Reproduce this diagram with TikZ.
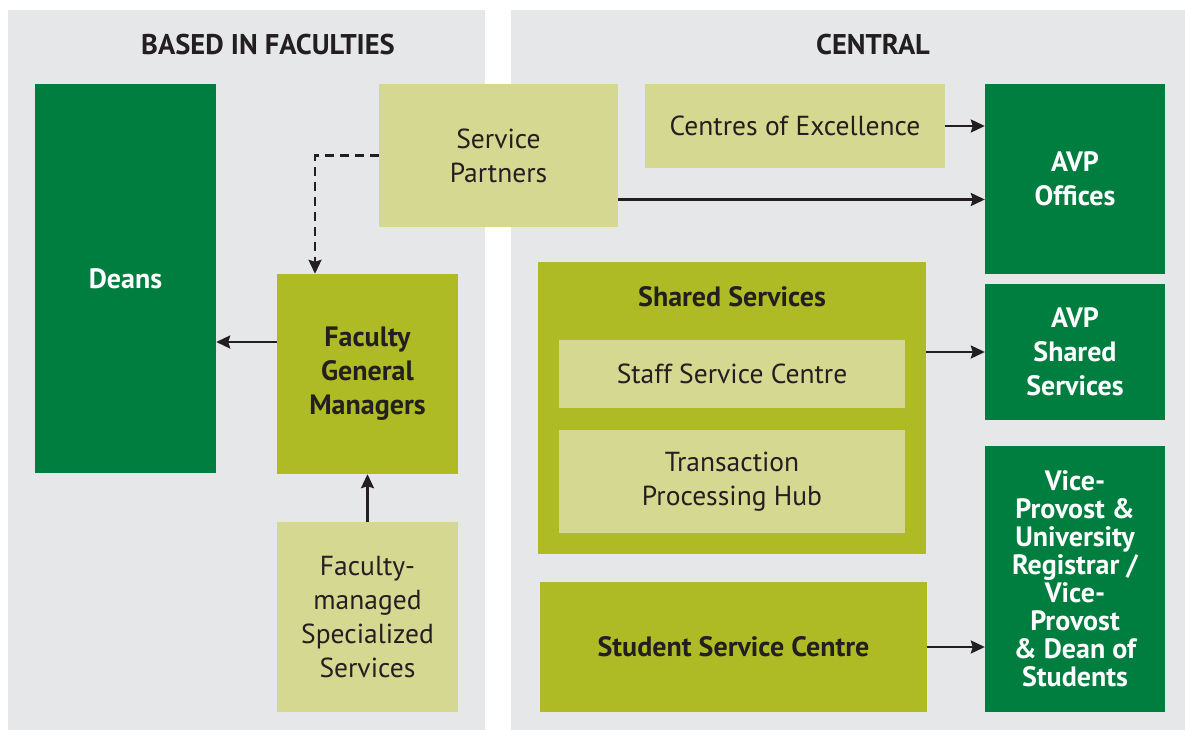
\documentclass[tikz,border=0pt]{standalone}
\usepackage{fontspec}
\setmainfont{PT Sans}
\usetikzlibrary{arrows.meta}
\definecolor{dgreen}{RGB}{0,126,64}
\definecolor{olive}{RGB}{175,187,36}
\definecolor{lolive}{RGB}{213,216,145}
\definecolor{panel}{RGB}{230,231,232}
\definecolor{ink}{RGB}{35,31,32}
\tikzset{
  box/.style={rectangle, inner sep=0pt, align=center, font=\fontsize{27.5}{34}\selectfont},
  dbox/.style={box, fill=dgreen, text=white, font=\fontsize{28}{34}\selectfont\bfseries},
  obox/.style={box, fill=olive, text=ink, font=\fontsize{28}{34}\selectfont\bfseries},
  lbox/.style={box, fill=lolive, text=ink},
  head/.style={text=ink, font=\fontsize{28.5}{30}\selectfont\bfseries},
  conn/.style={draw=ink, line width=2.3pt, -{Stealth[length=14pt,width=13pt,inset=2pt]}},
  dconn/.style={conn, dash pattern=on 9pt off 6pt}
}
\begin{document}
\begin{tikzpicture}[x=1pt,y=-1pt]
\useasboundingbox (0,0) rectangle (1185,730);
\fill[white] (0,0) rectangle (1185,730);
% panels
\fill[panel] (8,10) rectangle (485,730);
\fill[panel] (511,10) rectangle (1185,730);
\node[head] (hl) at (268,45) {BASED IN FACULTIES};
\node[head] (hr) at (873,45) {CENTRAL};
% left side
\node[dbox, minimum width=181pt, minimum height=389pt] (deans) at (125.5,278.5) {Deans};
\node[lbox, minimum width=239pt, minimum height=143pt] (sp) at (498.5,155.5) {Service\\Partners};
\node[obox, minimum width=181pt, minimum height=200pt] (fgm) at (367.5,374) {Faculty\\General\\Managers};
\node[lbox, minimum width=181pt, minimum height=190pt] (fms) at (367.5,617) {Faculty-\\managed\\Specialized\\Services};
% central
\node[lbox, minimum width=300pt, minimum height=84pt] (coe) at (795,126) {Centres of Excellence};
\node[dbox, minimum width=180pt, minimum height=190pt] (avpo) at (1075,179) {AVP\\Offices};
\node[obox, minimum width=388pt, minimum height=292pt] (ss) at (732,408) {};
\node[obox, fill=none] (sst) at (732,297) {Shared Services};
\node[lbox, minimum width=346pt, minimum height=68pt] (ssc) at (732,374) {Staff Service Centre};
\node[lbox, minimum width=346pt, minimum height=103pt] (tph) at (732,481.5) {Transaction\\Processing Hub};
\node[obox, minimum width=387pt, minimum height=130pt] (stsc) at (733.5,647) {Student Service Centre};
\node[dbox, minimum width=180pt, minimum height=136pt] (avpss) at (1075,352) {AVP\\Shared\\Services};
\node[dbox, minimum width=180pt, minimum height=266pt, font=\fontsize{28}{28}\selectfont\bfseries] (vp) at (1075,579) {Vice-\\Provost \&\\University\\Registrar /\\Vice-\\Provost\\\& Dean of\\Students};
% connectors
\draw[conn] ([yshift=32pt]fgm.west) -- ([yshift=32pt]fgm.west -| deans.east);
\draw[conn] (fms.north) -- (fgm.south);
\draw[dconn] (sp.west) -| ([xshift=-52.5pt]fgm.north);
\draw[conn] ([yshift=-44pt]sp.east) -- ([yshift=-44pt]sp.east -| avpo.west);
\draw[conn] (coe.east) -- (coe.east -| avpo.west);
\draw[conn] (avpss.west -| ss.east) -- (avpss.west);
\draw[conn] (stsc.east) -- (stsc.east -| vp.west);
\end{tikzpicture}
\end{document}
